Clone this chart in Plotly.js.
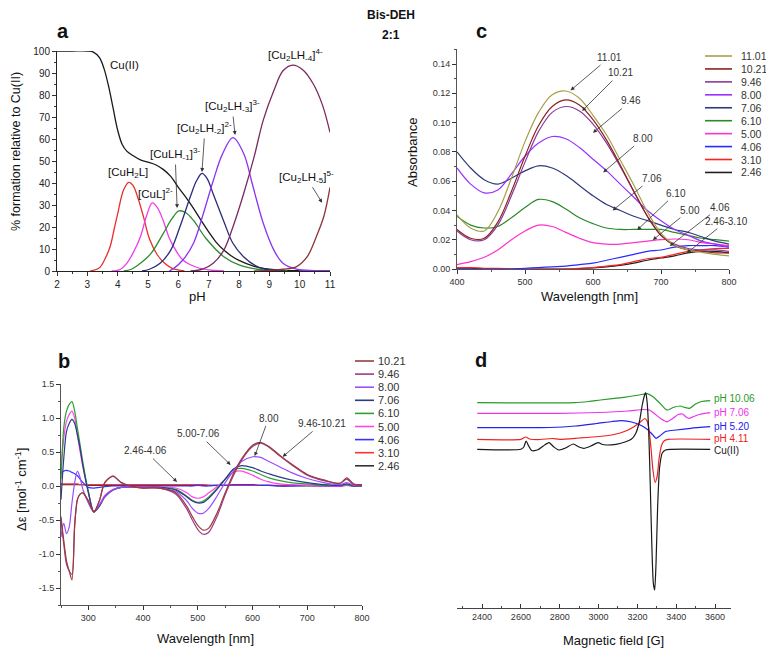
<!DOCTYPE html>
<html><head><meta charset="utf-8">
<script src="https://cdn.plot.ly/plotly-3.0.1.min.js"></script>
<style>html,body{margin:0;padding:0;background:#fff}#chart{width:766px;height:655px}</style>
</head><body><div id="chart"></div>
<script>
// ---------------- Panel a: species distribution ----------------
const pH_CuII = [2.0,2.5,3.0,3.2,3.4,3.55,3.7,3.85,4.0,4.15,4.3,4.5,4.75,5.0,5.25,5.5,5.75,6.0,6.25,6.5,6.75,7.0,7.25,7.5,7.75,8.0,8.5,9.0,9.5,10.0,11.0];
const pct_CuII = [100,100,100,99.5,97,92,84,74,64,57.5,54.5,52.5,50.5,49.5,48.3,46.2,43,38,33.5,28.5,23,17.8,13,9.5,6.8,4.8,2.1,0.8,0.3,0.1,0];
const pH_CuH2L = [3.1,3.4,3.6,3.75,3.9,4.0,4.2,4.37,4.5,4.65,4.85,5.05,5.3,5.55,5.8,6.2];
const pct_CuH2L = [0,1.5,6,11,20,26,37,40.3,39,34,24.7,14.5,7.5,3.5,1.2,0];
const pH_CuL = [3.8,4.1,4.3,4.5,4.75,4.95,5.14,5.3,5.5,5.7,5.85,6.15,6.6,7.0,7.5];
const pct_CuL = [0,0.8,3.5,8,15.6,25,31,29,23,15,11,5,1.7,0.5,0];
const pH_CuLH1 = [4.2,4.45,4.75,5.1,5.5,5.8,6.02,6.25,6.5,6.9,7.5,8.0,8.6,9.2,9.6];
const pct_CuLH1 = [0,0.8,3.5,8,17,24,27.3,26.5,23,15,6.5,2.8,0.8,0.2,0];
const pH_Cu2LH2 = [4.8,5.05,5.4,5.75,6.05,6.4,6.6,6.78,6.95,7.15,7.5,7.8,8.15,8.6,9.0,9.5];
const pct_Cu2LH2 = [0,0.8,3.5,9.5,20,34,41,44.4,42,35,22.5,12.6,6.5,2,0.5,0];
const pH_Cu2LH3 = [5.7,5.85,6.15,6.5,6.8,7.15,7.45,7.8,8.15,8.45,8.8,9.15,9.45,9.9,10.5,11];
const pct_Cu2LH3 = [0,1.2,5,12.6,25,41,53,60.6,53.5,39,21.7,9.5,3.5,0.8,0.2,0];
const pH_Cu2LH4 = [6.4,6.8,7.15,7.5,7.8,8.15,8.5,8.8,9.15,9.45,9.77,10.1,10.45,10.75,11];
const pct_Cu2LH4 = [0,0.8,3.5,9.5,20,35,52,68.6,82,91,93.6,91.5,85,75.5,63];
const pH_Cu2LH5 = [8.5,9.0,9.45,9.9,10.25,10.55,10.8,11];
const pct_Cu2LH5 = [0,0.3,0.8,2,6.5,15.6,25,38];
const xTicksA = [2,3,4,5,6,7,8,9,10,11];

// ---------------- Panel c: UV-Vis absorbance ----------------
const wlC = [400,420,440,460,480,500,520,540,560,580,600,620,640,660,680,700,720,740,760,780,800];
const abs1101 = [0.037,0.028,0.026,0.039,0.062,0.087,0.107,0.119,0.1216,0.1166,0.105,0.0915,0.0745,0.0574,0.039,0.0244,0.0164,0.013,0.0114,0.010,0.009];
const abs1021 = [0.027,0.021,0.021,0.032,0.053,0.077,0.098,0.111,0.1155,0.112,0.102,0.088,0.071,0.053,0.036,0.023,0.016,0.013,0.012,0.011,0.011];
const abs946 = [0.026,0.020,0.020,0.030,0.050,0.073,0.094,0.107,0.111,0.108,0.099,0.086,0.070,0.053,0.036,0.023,0.017,0.014,0.013,0.013,0.012];
const abs800 = [0.069,0.058,0.052,0.054,0.065,0.077,0.086,0.0905,0.089,0.083,0.075,0.067,0.058,0.049,0.040,0.033,0.027,0.023,0.019,0.017,0.015];
const abs706 = [0.080,0.069,0.061,0.058,0.062,0.067,0.0705,0.069,0.064,0.057,0.050,0.044,0.040,0.036,0.033,0.030,0.027,0.025,0.022,0.019,0.017];
const abs610 = [0.036,0.030,0.028,0.029,0.035,0.042,0.0475,0.046,0.041,0.035,0.031,0.028,0.027,0.027,0.027,0.027,0.025,0.023,0.021,0.020,0.019];
const abs500 = [0.003,0.005,0.008,0.013,0.020,0.026,0.030,0.029,0.025,0.021,0.018,0.017,0.017,0.018,0.019,0.020,0.0205,0.020,0.018,0.017,0.016];
const abs406 = [0.000,0.000,0.000,0.000,0.000,0.0005,0.001,0.0015,0.002,0.003,0.004,0.006,0.008,0.010,0.012,0.013,0.015,0.016,0.016,0.016,0.015];
const abs310 = [0.001,0.001,0.0005,0.0005,0.0,0.0,0.0,0.0,0.0,0.0005,0.001,0.002,0.003,0.005,0.007,0.008,0.010,0.012,0.013,0.014,0.014];
const abs246 = [0.0005,0.0005,0.0,0.0,0.0,0.0,0.0,0.0,0.0,0.0003,0.0008,0.0015,0.0025,0.004,0.006,0.0075,0.009,0.011,0.012,0.012,0.011];
const labelsC = ['11.01','10.21','9.46','8.00','7.06','6.10','5.00','4.06','3.10','2.46'];

// ---------------- Panel b: CD spectra ----------------
const wlB = [250,255,260,265,270,275,280,285,290,300,310,320,330,345,360,380,400,430,460,480,490,500,510,520,535,550,565,580,600,615,630,650,670,700,730,760,772,785,800];
const cd1021 = [-0.45,-0.8,-1.1,-1.25,-1.38,-0.6,-0.2,-0.12,-0.1,-0.22,-0.38,-0.22,0.05,0.15,0.05,-0.01,-0.03,-0.03,-0.10,-0.30,-0.45,-0.58,-0.65,-0.62,-0.40,-0.10,0.18,0.40,0.60,0.64,0.58,0.45,0.33,0.17,0.09,0.04,0.12,0.03,0.02];
const cd946 = [-0.5,-0.85,-1.15,-1.25,-1.3,-0.55,-0.2,-0.12,-0.1,-0.22,-0.38,-0.22,0.05,0.14,0.05,-0.01,-0.03,-0.03,-0.12,-0.34,-0.50,-0.64,-0.71,-0.68,-0.45,-0.13,0.15,0.38,0.58,0.63,0.57,0.44,0.32,0.16,0.08,0.04,0.10,0.02,0.01];
const cd800 = [-0.75,-0.55,-0.7,-0.6,-0.25,0.05,0.22,0.12,-0.05,-0.25,-0.38,-0.28,-0.16,-0.06,-0.02,-0.02,-0.02,-0.03,-0.08,-0.22,-0.33,-0.40,-0.40,-0.33,-0.15,0.05,0.22,0.36,0.43,0.42,0.36,0.28,0.20,0.11,0.05,0.02,0.05,0.01,0.0];
const cd706 = [-0.2,0.4,0.8,0.92,0.98,0.92,0.75,0.55,0.3,-0.1,-0.38,-0.3,-0.16,-0.06,-0.02,-0.02,-0.02,-0.02,-0.06,-0.16,-0.22,-0.25,-0.24,-0.18,-0.05,0.1,0.25,0.30,0.27,0.22,0.18,0.13,0.09,0.05,0.02,0.01,0.03,0.0,0.0];
const cd610 = [0.1,0.85,1.1,1.2,1.24,1.1,0.85,0.6,0.35,-0.08,-0.38,-0.3,-0.16,-0.06,-0.02,-0.02,-0.02,-0.02,-0.05,-0.15,-0.21,-0.24,-0.22,-0.16,-0.04,0.1,0.24,0.26,0.22,0.17,0.12,0.08,0.05,0.03,0.01,0.01,0.02,0.0,0.0];
const cd500 = [0.25,0.7,0.95,1.05,1.1,1.0,0.75,0.5,0.28,-0.08,-0.38,-0.28,-0.14,-0.05,-0.02,-0.01,-0.01,-0.01,-0.03,-0.10,-0.16,-0.18,-0.16,-0.10,-0.01,0.10,0.20,0.22,0.16,0.10,0.06,0.03,0.02,0.01,0.0,0.0,0.01,0.0,0.0];
const cd406 = [0.18,0.22,0.23,0.22,0.2,0.18,0.15,0.1,0.05,-0.02,-0.03,-0.02,-0.01,0.0,0.0,0.0,0.0,0.0,0.0,0.0,0.0,0.01,0.0,0.0,0.01,0.01,0.02,0.02,0.02,0.01,0.01,0.0,0.0,0.01,0.0,0.0,0.02,0.0,0.0];
const cd310 = [0.03,0.03,0.03,0.03,0.03,0.03,0.03,0.02,0.02,0.02,0.02,0.02,0.02,0.02,0.02,0.02,0.02,0.02,0.02,0.02,0.02,0.02,0.02,0.01,0.01,0.01,0.01,0.01,0.01,0.01,0.01,0.01,0.01,0.01,0.01,0.0,0.02,0.0,0.0];
const cd246 = [0.02,0.02,0.02,0.02,0.02,0.02,0.02,0.02,0.02,0.01,0.01,0.01,0.01,0.01,0.01,0.01,0.01,0.01,0.01,0.01,0.01,0.01,0.01,0.01,0.01,0.01,0.01,0.01,0.01,0.01,0.01,0.0,0.0,0.0,0.0,0.0,0.01,0.0,0.0];
const labelsB = ['10.21','9.46','8.00','7.06','6.10','5.00','4.06','3.10','2.46'];
const yTickValsB = [-1.5,-1.0,-0.5,0,0.5,1.0,1.5];
const yTickTextB = ['-1.5','-1.0','-0.5','0.0','0.5','1.0','1.5'];

// ---------------- Panel d: EPR spectra (stacked, arbitrary units) ----------------
const fieldCu = [2375,2600,2615,2627,2640,2655,2670,2690,2715,2745,2770,2795,2830,2870,2900,2925,2960,2998,3020,3040,3090,3140,3170,3190,3210,3225,3237,3243,3250,3258,3266,3274,3282,3289,3296,3304,3314,3328,3345,3370,3575];
const eprCu = [158.7,158.7,161,167,162,157.5,157.3,158.5,162,165.3,161,158,160,164,161,159.7,162,165.3,163.5,163,163.7,166.3,169,174,186,203,213,215.5,206,178,125,65,25,18,45,100,140,155,158,158.7,158.7];
const field411 = [2375,2600,2625,2645,2700,2760,2800,2900,3000,3080,3140,3180,3215,3238,3250,3260,3270,3280,3291,3302,3312,3325,3340,3360,3575];
const epr411 = [168.7,168.7,171,169,168.5,169.5,168.7,170,171.5,173.5,177,181,186,189.5,187,178,160,138,125.5,132,150,163,167.5,168.7,168.7];
const field520 = [2375,2600,2750,2880,2990,3070,3120,3170,3220,3255,3275,3296,3315,3345,3400,3475,3575];
const epr520 = [180.3,180.3,180.5,182,184.5,186.5,187.3,186,182.5,178,174,169.7,172,176.5,178,179.7,181.3];
const field706 = [2375,2800,3000,3150,3230,3262,3290,3320,3352,3385,3410,3433,3450,3465,3490,3520,3575];
const epr706 = [194.7,194.7,195.5,197,198.5,198,194,189.5,186.3,190,193.5,194,191,189.7,191.5,193.5,195.3];
const field1006 = [2375,2880,2950,3010,3130,3210,3250,3282,3316,3352,3385,3420,3445,3468,3500,3530,3575];
const epr1006 = [205.3,205.3,206.5,208,210.7,213,214.3,211,204.7,198,200.5,202,200.5,199.7,204,206.5,207.3];
const labelsD = ['pH 10.06','pH 7.06','pH 5.20','pH 4.11','Cu(II)'];

// ---------------- styles ----------------
const FONT = 'Liberation Sans, Arial, Helvetica, sans-serif';
const W = 766, H = 655;
const PX = p => p / W, PY = p => 1 - p / H;

const colA = {cu:'#1a1a1a', h2l:'#e8302a', l:'#ee3cee', lh1:'#2e8b2e', lh2:'#2b2b7a', lh3:'#8a35f0', lh4:'#7b2a60', lh5:'#8b3535'};
const colC = ['#a8a048','#8b2020','#8a3a9a','#9933ff','#2f3a7a','#2a8a2a','#ff33cc','#2a2aff','#ff2020','#202020'];
const colB = ['#9b3b3b','#9b3b8b','#9b4dff','#2b3a8b','#2ca02c','#ff44ee','#3333ff','#ff3333','#333333'];
const colD = ['#2a9a2a','#ee33ee','#2222ee','#ee2222','#1a1a1a'];

function ln(x, y, color, xa, ya, w, sm) {
  return {x: x, y: y, xaxis: xa, yaxis: ya, mode: 'lines', type: 'scatter', showlegend: false,
          hoverinfo: 'skip', line: {color: color, width: w || 1.3, shape: 'spline', smoothing: sm === undefined ? 1 : sm}};
}

const traces = [
  ln(pH_CuII, pct_CuII, colA.cu, 'x', 'y'),
  ln(pH_CuH2L, pct_CuH2L, colA.h2l, 'x', 'y'),
  ln(pH_CuL, pct_CuL, colA.l, 'x', 'y'),
  ln(pH_CuLH1, pct_CuLH1, colA.lh1, 'x', 'y'),
  ln(pH_Cu2LH2, pct_Cu2LH2, colA.lh2, 'x', 'y'),
  ln(pH_Cu2LH3, pct_Cu2LH3, colA.lh3, 'x', 'y'),
  ln(pH_Cu2LH4, pct_Cu2LH4, colA.lh4, 'x', 'y'),
  ln(pH_Cu2LH5, pct_Cu2LH5, colA.lh5, 'x', 'y')
];
const seriesC = [abs1101, abs1021, abs946, abs800, abs706, abs610, abs500, abs406, abs310, abs246];
for (let i = seriesC.length - 1; i >= 0; i--) traces.push(ln(wlC, seriesC[i], colC[i], 'x2', 'y2', 1.2));
const seriesB = [cd1021, cd946, cd800, cd706, cd610, cd500, cd406, cd310, cd246];
for (let i = seriesB.length - 1; i >= 0; i--) traces.push(ln(wlB, seriesB[i], colB[i], 'x3', 'y3', 1.2, 0.8));
const fieldsD = [field1006, field706, field520, field411, fieldCu];
const seriesD = [epr1006, epr706, epr520, epr411, eprCu];
for (let i = 0; i < seriesD.length; i++) traces.push(ln(fieldsD[i], seriesD[i], colD[i], 'x4', 'y4', 1.2, 0.6));

function axisBase(extra) {
  return Object.assign({showline: true, linecolor: '#333', linewidth: 1, ticks: 'outside', ticklen: 4,
    tickcolor: '#333', showgrid: false, zeroline: false, tickfont: {family: FONT, size: 9, color: '#333'},
    fixedrange: true}, extra);
}

const annotations = [];
function txt(text, px, py, size, opts) {
  annotations.push(Object.assign({text: text, x: PX(px), y: PY(py), xref: 'paper', yref: 'paper', showarrow: false,
    xanchor: 'center', yanchor: 'middle', font: {family: FONT, size: size, color: '#111'}}, opts || {}));
}
function arr(text, x, y, xr, yr, ax, ay, size, color) {
  annotations.push({text: text, x: x, y: y, xref: xr, yref: yr, ax: ax, ay: ay, showarrow: true,
    arrowhead: 2, arrowsize: 1, arrowwidth: 0.8, arrowcolor: '#333', standoff: 0, startstandoff: 1,
    font: {family: FONT, size: size, color: color || '#333'}});
}

// Title and panel letters
txt('<b>Bis-DEH</b>', 391, 15, 12);
txt('<b>2:1</b>', 391, 35, 12);
txt('<b>a</b>', 63, 31, 20);
txt('<b>c</b>', 481, 31, 20);
txt('<b>b</b>', 64, 361, 20);
txt('<b>d</b>', 481, 360, 20);

// Axis titles
txt('% formation relative to Cu(II)', 16, 152, 12.5, {textangle: -90});
txt('pH', 197, 296, 13);
txt('Absorbance', 412, 153, 13, {textangle: -90});
txt('Wavelength [nm]', 589, 296, 13);
txt('Δε [mol<sup>-1</sup> cm<sup>-1</sup>]', 21, 490, 13, {textangle: -90});
txt('Wavelength [nm]', 205, 638, 13);
txt('Magnetic field [G]', 613, 640, 13);

// Panel a species labels
txt('Cu(II)', 124, 65, 11.5);
txt('[CuH<sub>2</sub>L]', 128, 173, 11.5);
txt('[CuL]<sup>2-</sup>', 155, 193, 11.5);
txt('[Cu<sub>2</sub>LH<sub>-4</sub>]<sup>4-</sup>', 295, 55, 11.5);
arr('[CuLH<sub>-1</sub>]<sup>3-</sup>', 5.96, 28.6, 'x', 'y', -2, -54, 11.5, '#111');
arr('[Cu<sub>2</sub>LH<sub>-2</sub>]<sup>2-</sup>', 6.78, 45, 'x', 'y', 3, -44, 11.5, '#111');
arr('[Cu<sub>2</sub>LH<sub>-3</sub>]<sup>3-</sup>', 7.87, 61.8, 'x', 'y', -3, -29, 11.5, '#111');
arr('[Cu<sub>2</sub>LH<sub>-5</sub>]<sup>5-</sup>', 10.74, 31, 'x', 'y', -16, -26, 11.5, '#111');

// Panel c arrows
arr('11.01', 567, 0.122, 'x2', 'y2', 39, -33, 10);
arr('10.21', 584, 0.108, 'x2', 'y2', 38, -38, 10);
arr('9.46', 600, 0.093, 'x2', 'y2', 38, -32, 10);
arr('8.00', 615, 0.066, 'x2', 'y2', 40, -34, 10);
arr('7.06', 629, 0.040, 'x2', 'y2', 39, -32, 10);
arr('6.10', 665, 0.0266, 'x2', 'y2', 39, -37, 10);
arr('5.00', 688, 0.0198, 'x2', 'y2', 37, -30, 10);
arr('4.06', 713, 0.0157, 'x2', 'y2', 50, -39, 10);
arr('2.46-3.10', 738, 0.0109, 'x2', 'y2', 40, -32, 10);

// Panel b arrows
arr('2.46-4.06', 462, 0.06, 'x3', 'y3', -32, -31, 10);
arr('5.00-7.06', 560, 0.31, 'x3', 'y3', -32, -31, 10);
arr('8.00', 604, 0.44, 'x3', 'y3', 14, -38, 10);
arr('9.46-10.21', 655, 0.43, 'x3', 'y3', 39, -33, 10);

// Manual legends
const shapes = [];
labelsC.forEach((lab, i) => {
  const py = 56 + 12.94 * i;
  shapes.push({type: 'line', xref: 'paper', yref: 'paper', x0: PX(705), x1: PX(732), y0: PY(py), y1: PY(py), line: {color: colC[i], width: 1.6}});
  txt(lab, 739, py, 10.5, {xanchor: 'left', font: {family: FONT, size: 10.5, color: '#333'}});
});
labelsB.forEach((lab, i) => {
  const py = 361 + 13.1 * i;
  shapes.push({type: 'line', xref: 'paper', yref: 'paper', x0: PX(355), x1: PX(374), y0: PY(py), y1: PY(py), line: {color: colB[i], width: 1.6}});
  txt(lab, 376, py, 11, {xanchor: 'left', font: {family: FONT, size: 11, color: '#333'}});
});
// EPR labels
const yLabD = [399, 412.5, 426, 438, 450];
labelsD.forEach((lab, i) => {
  txt(lab, 712, yLabD[i], 10, {xanchor: 'left', font: {family: FONT, size: 10, color: colD[i]}});
});

const layout = {
  width: W, height: H, margin: {l: 0, r: 0, t: 0, b: 0}, paper_bgcolor: '#fff', plot_bgcolor: 'rgba(0,0,0,0)',
  showlegend: false, font: {family: FONT},
  xaxis: axisBase({domain: [PX(57), PX(330)], range: [2, 11], tickvals: xTicksA, anchor: 'y', linecolor: '#222',
    tickfont: {family: FONT, size: 10, color: '#222'}, minor: {dtick: 0.5, ticks: 'outside', ticklen: 2, tickcolor: '#333'}}),
  yaxis: axisBase({domain: [PY(271), PY(51)], range: [0, 100], dtick: 10, anchor: 'x', linecolor: '#222',
    tickfont: {family: FONT, size: 10, color: '#222'}, minor: {dtick: 5, ticks: 'outside', ticklen: 2, tickcolor: '#333'}}),
  xaxis2: axisBase({domain: [PX(457), PX(729)], range: [400, 800], dtick: 100, anchor: 'y2', linecolor: '#555',
    minor: {dtick: 50, ticks: 'outside', ticklen: 2, tickcolor: '#555'}}),
  yaxis2: axisBase({domain: [PY(269), PY(49.4)], range: [0, 0.15], tick0: 0, dtick: 0.02, tickformat: '.2f', anchor: 'x2', linecolor: '#555',
    minor: {dtick: 0.01, ticks: 'outside', ticklen: 2, tickcolor: '#555'}}),
  xaxis3: axisBase({domain: [PX(61), PX(362)], range: [250, 800], tick0: 300, dtick: 100, anchor: 'y3', linecolor: '#555',
    minor: {dtick: 50, ticks: 'outside', ticklen: 2, tickcolor: '#555'}}),
  yaxis3: axisBase({domain: [PY(605), PY(384)], range: [-1.75, 1.5], tickvals: yTickValsB, ticktext: yTickTextB, anchor: 'x3', linecolor: '#555',
    minor: {dtick: 0.25, ticks: 'outside', ticklen: 2, tickcolor: '#555'}}),
  xaxis4: axisBase({domain: [PX(457), PX(731)], range: [2271, 3682], tick0: 2400, dtick: 200, anchor: 'y4', ticks: 'inside', linecolor: '#444',
    minor: {dtick: 100, ticks: 'inside', ticklen: 2, tickcolor: '#444'}}),
  yaxis4: {domain: [PY(608), PY(380)], range: [0, 228], visible: false, anchor: 'x4', fixedrange: true},
  annotations: annotations,
  shapes: shapes
};

Plotly.newPlot('chart', traces, layout, {staticPlot: true, displayModeBar: false});
</script>
</body></html>
